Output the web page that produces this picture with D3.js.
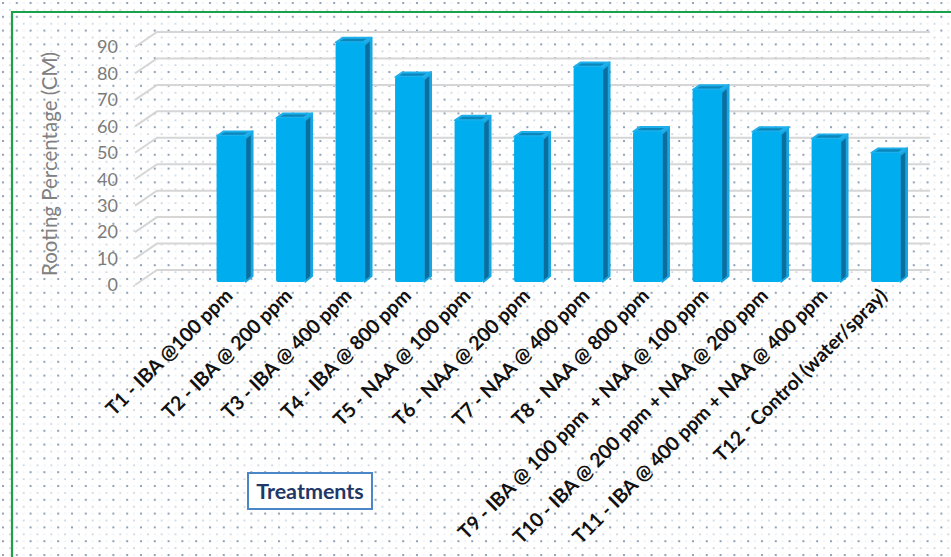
<!DOCTYPE html>
<html><head><meta charset="utf-8">
<script src="https://cdn.jsdelivr.net/npm/d3@7"></script>
<style>
html,body{margin:0;padding:0;background:#fff;}
svg{display:block;}
</style></head>
<body>
<script>
const categories = [
  "T1 - IBA @100 ppm",
  "T2 - IBA @ 200 ppm",
  "T3 - IBA @ 400 ppm",
  "T4 - IBA @ 800 ppm",
  "T5 - NAA @ 100 ppm",
  "T6 - NAA @ 200 ppm",
  "T7 - NAA @ 400 ppm",
  "T8 - NAA @ 800 ppm",
  "T9 - IBA @ 100 ppm  + NAA @ 100 ppm",
  "T10 - IBA @ 200 ppm + NAA @ 200 ppm",
  "T11 - IBA @ 400 ppm + NAA @ 400 ppm",
  "T12 - Control (water/spray)"
];
const rootingValues = [55.2, 62.0, 90.6, 77.5, 61.1, 55.0, 81.3, 56.9, 72.7, 56.8, 54.1, 48.8];
const yTicks = [0, 10, 20, 30, 40, 50, 60, 70, 80, 90];
const yTitle = "Rooting Percentage (CM)";
const xTitle = "Treatments";

const W = 951, H = 557;
const DX = 22, DY = 15;          // back-wall offset (3D depth)
const wallLeft = 135, wallRight = 930;
const barD1 = 0.2, barD2 = 0.52; // bar front/back depth fraction

const svg = d3.select("body").append("svg").attr("width", W).attr("height", H);

// dotted-grid background
const defs = svg.append("defs");
const pat = defs.append("pattern").attr("id", "dots").attr("patternUnits", "userSpaceOnUse")
  .attr("width", 13.8).attr("height", 13.8);
pat.append("rect").attr("width", 13.8).attr("height", 13.8).attr("fill", "#fff");
pat.append("circle").attr("cx", 3).attr("cy", 3).attr("r", 1.1).attr("fill", "#7d92ab");
pat.append("circle").attr("cx", 9.9).attr("cy", 9.9).attr("r", 0.85).attr("fill", "#b3c0cf");
pat.append("rect").attr("x", 9.2).attr("y", 2.6).attr("width", 1.4).attr("height", 0.8).attr("fill", "#d0d8e2");
pat.append("rect").attr("x", 2.3).attr("y", 9.5).attr("width", 1.4).attr("height", 0.8).attr("fill", "#d0d8e2");
svg.append("rect").attr("width", W).attr("height", H).attr("fill", "url(#dots)");

// green frame
svg.append("path").attr("d", `M12,${H} L12,12 L${W},12`).attr("fill", "none")
  .attr("stroke", "#19a24a").attr("stroke-width", 2.2);

const y = d3.scaleLinear().domain([0, 90]).range([285, 47]);
const x = d3.scaleBand().domain(categories).range([197, 911]).padding(0);
const barW = x.bandwidth() * 0.49;

// gridlines (left wall diagonal + back wall)
svg.append("g").selectAll("path").data(yTicks).join("path")
  .attr("d", t => `M${wallLeft},${y(t)} L${wallLeft + DX},${y(t) - DY} L${wallRight},${y(t) - DY}`)
  .attr("fill", "none").attr("stroke", "#d6d6d6").attr("stroke-width", 2);

// y tick labels
svg.append("g").selectAll("text").data(yTicks).join("text")
  .attr("x", 118).attr("y", t => y(t)).attr("dy", "0.35em")
  .attr("text-anchor", "end").attr("font-family", "Lato, 'Open Sans', sans-serif")
  .attr("font-size", 18).attr("fill", "#7b7b7b").text(t => t);

// y title
svg.append("text").attr("transform", "translate(57,164) rotate(-90)")
  .attr("text-anchor", "middle").attr("font-family", "Lato, 'Open Sans', sans-serif")
  .attr("font-size", 20.5).attr("fill", "#808080").text(yTitle);

// bars
const gBars = svg.append("g");
categories.forEach((c, i) => {
  const v = rootingValues[i];
  const xc = x(c) + x.bandwidth() / 2;
  const l = xc - barW / 2 + barD1 * DX, r = l + barW;
  const top = y(v) - barD1 * DY, bot = y(0) - barD1 * DY;
  const ox = (barD2 - barD1) * DX, oy = (barD2 - barD1) * DY;
  const g = gBars.append("g");
  // side face
  g.append("path").attr("d", `M${r},${top} L${r + ox},${top - oy} L${r + ox},${bot - oy - 1} L${r},${bot} Z`)
    .attr("fill", "#1aa6e0").attr("stroke", "#1aa6e0").attr("stroke-width", 1.5).attr("stroke-linejoin", "round");
  g.append("path").attr("d", `M${r + 0.5},${top + 3} L${r + ox - 2},${top - oy + 4} L${r + ox - 2},${bot - oy - 1} L${r + 0.5},${bot - 2} Z`)
    .attr("fill", "#0a6f9f");
  // top face
  g.append("path").attr("d", `M${l},${top} L${r},${top} L${r + ox},${top - oy} L${l + ox},${top - oy} Z`)
    .attr("fill", "#1eb0ec").attr("stroke", "#1eb0ec").attr("stroke-width", 1.5).attr("stroke-linejoin", "round");
  g.append("path").attr("d", `M${l + 4},${top - 1.2} L${r - 2},${top - 1.2} L${r + ox - 5},${top - oy + 1.2} L${l + ox + 1},${top - oy + 1.2} Z`)
    .attr("fill", "#0b86bb");
  // front face
  g.append("rect").attr("x", l).attr("y", top).attr("width", barW).attr("height", bot - top)
    .attr("rx", 2).attr("fill", "#00adef");
});

// x labels
svg.append("g").selectAll("text").data(categories).join("text")
  .attr("transform", c => `translate(${x(c) + x.bandwidth() / 2 + 7},297) rotate(-45)`)
  .attr("text-anchor", "end").attr("font-family", "Lato, 'Open Sans', sans-serif")
  .attr("font-weight", "bold").attr("font-size", 19.5).attr("fill", "#111")
  .style("white-space", "pre").text(c => c);

// x title box
svg.append("rect").attr("x", 248).attr("y", 473).attr("width", 124).attr("height", 36)
  .attr("fill", "#fff").attr("stroke", "#4a86c8").attr("stroke-width", 2);
svg.append("text").attr("x", 310).attr("y", 491).attr("dy", "0.36em").attr("text-anchor", "middle")
  .attr("font-family", "Lato, 'Open Sans', sans-serif").attr("font-weight", "bold")
  .attr("font-size", 21.5).attr("fill", "#1f3868").text(xTitle);
</script>
</body></html>
